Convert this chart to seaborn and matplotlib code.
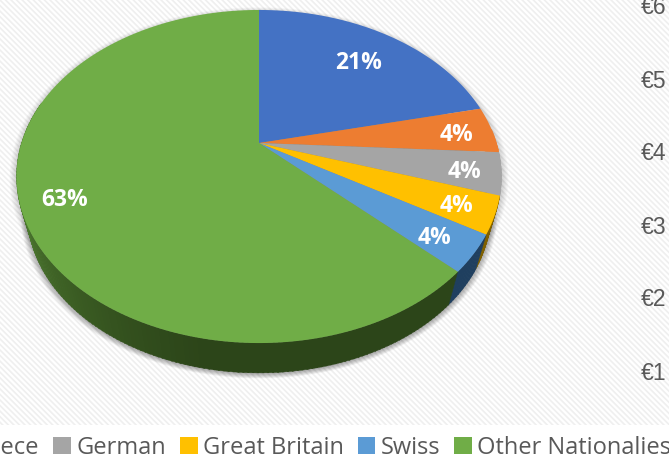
import numpy as np
import matplotlib
matplotlib.use("Agg")
import matplotlib.pyplot as plt
import seaborn as sns
from matplotlib.patches import Patch, Rectangle
from matplotlib.path import Path
from matplotlib.transforms import Transform, Affine2D

legend_names = ["Greece", "German", "Great Britain", "Swiss", "Other Nationalies"]
slice_values = [21.4, 4.5, 4.1, 3.6, 3.6, 62.8]
label_texts = ["21%", "4%", "4%", "4%", "4%", "63%"]
slice_colors = ["#4472C4", "#ED7D31", "#A5A5A5", "#FFC000", "#5B9BD5", "#70AD47"]
axis_labels = ["€6", "€5", "€4", "€3", "€2", "€1"]

sns.set_theme(style="white")
plt.rcParams["font.family"] = ["Open Sans", "DejaVu Sans"]

CX, CY, A, B, K = 259.0, 143.0, 237.5, 159.8, 0.2012
TOP_MID, LOW_MID, LOW_X, LOW_Y = 176.5, 213.0, 0.955, 0.96


def project(u, v):
    w = 1 + K * v
    return CX + A * u / w, CY - B * v / w


def lower_rim(x, y):
    return CX + (x - CX) * LOW_X, LOW_MID + (y - TOP_MID) * LOW_Y


class Tilt(Transform):
    input_dims = output_dims = 2
    has_inverse = False

    def transform_non_affine(self, values):
        values = np.asarray(values)
        x, y = project(values[:, 0], values[:, 1])
        return np.column_stack([x, y])

    def transform_path_non_affine(self, path):
        polys = path.to_polygons(transform=Affine2D().scale(2000), closed_only=False)
        pts = polys[0] / 2000
        return Path(self.transform_non_affine(pts))


fig = plt.figure(figsize=(6.69, 4.58), dpi=100, facecolor="white")
ax = fig.add_axes([0, 0, 1, 1])

wedges, _ = ax.pie(slice_values, colors=slice_colors, startangle=90, counterclock=False, radius=1.0,
                   wedgeprops={"linewidth": 0, "zorder": 5})
ax.set_aspect("auto")
ax.set_xlim(0, 669)
ax.set_ylim(458, 0)
ax.axis("off")
tilt = Tilt()
for w in wedges:
    w.set_transform(tilt + ax.transData)

# striped background
ax.add_patch(Rectangle((0, 0), 669, 458, facecolor="white", edgecolor="none", zorder=0))
plt.rcParams["hatch.linewidth"] = 1.2
ax.add_patch(Rectangle((-2, -2), 673, 427, facecolor="white", edgecolor="#efefef",
                       hatch="\\\\\\\\\\\\", linewidth=0, zorder=0.5))

# soft shadow under the pie
theta = np.linspace(0, 2 * np.pi, 361)
ex, ey = project(np.sin(theta), np.cos(theta))
lx, ly = lower_rim(ex, ey)
for i in range(10):
    s = 1 + 0.0032 * i
    ax.fill(CX + (lx - CX) * s, LOW_MID + (ly - LOW_MID) * s + 1,
            color="black", alpha=0.035, lw=0, zorder=1)
    ax.fill(CX + (ex - CX) * s, TOP_MID + (ey - TOP_MID) * s + 2,
            color="black", alpha=0.02, lw=0, zorder=1)

# side wall, one narrow quad per degree, darkened by angle
fractions = np.cumsum(slice_values) / np.sum(slice_values) * 360
wall_base = ["#4472C4", "#ED7D31", "#A5A5A5", "#7f6000", "#1F3F5F", "#2E4A1B"]
for deg in np.arange(85, 285, 1.0):
    a = np.radians([deg, deg + 1.3])
    x, y = project(np.sin(a), np.cos(a))
    x2, y2 = lower_rim(x, y)
    idx = int(np.searchsorted(fractions, deg + 0.5))
    if idx == 5:
        mix = np.clip((deg - 190) / 65, 0, 1) ** 1.2
        c0 = np.array(matplotlib.colors.to_rgb("#2C4519"))
        c1 = np.array(matplotlib.colors.to_rgb("#4F7D31"))
        color = c0 + (c1 - c0) * mix
    else:
        color = wall_base[idx]
    ax.fill([x[0], x[1], x2[1], x2[0]], [y[0], y[1], y2[1], y2[0]],
            color=color, lw=0.3, zorder=2)

# data labels
label_x = [359, 456, 465, 457, 435, 65]
label_y = [63, 135, 172, 206, 238, 200]
for tx, px, py in zip(label_texts, label_x, label_y):
    ax.text(px, py, tx, color="white", fontsize=16.5, fontweight="bold", ha="center", va="center", zorder=8)

# cropped value axis labels from the neighbouring chart
for lab, y in zip(axis_labels, [8, 81, 154, 227, 300, 373]):
    ax.text(641, y, lab, color="#595959", fontsize=16.5, family="Liberation Sans", ha="left", va="center", zorder=8)

# legend
handles = [Patch(facecolor=c, edgecolor="none") for c in slice_colors[1:]]
leg = ax.legend(handles, legend_names, loc="center left", bbox_to_anchor=(-62 / 669, 1 - 448 / 458),
                bbox_transform=ax.transAxes, ncol=5, frameon=False, fontsize=17,
                labelcolor="#595959", handlelength=0.76, handleheight=0.76, handletextpad=0.21,
                columnspacing=0.59, borderpad=0, borderaxespad=0)
leg.set_zorder(8)

fig.savefig("out.png", dpi=100)
